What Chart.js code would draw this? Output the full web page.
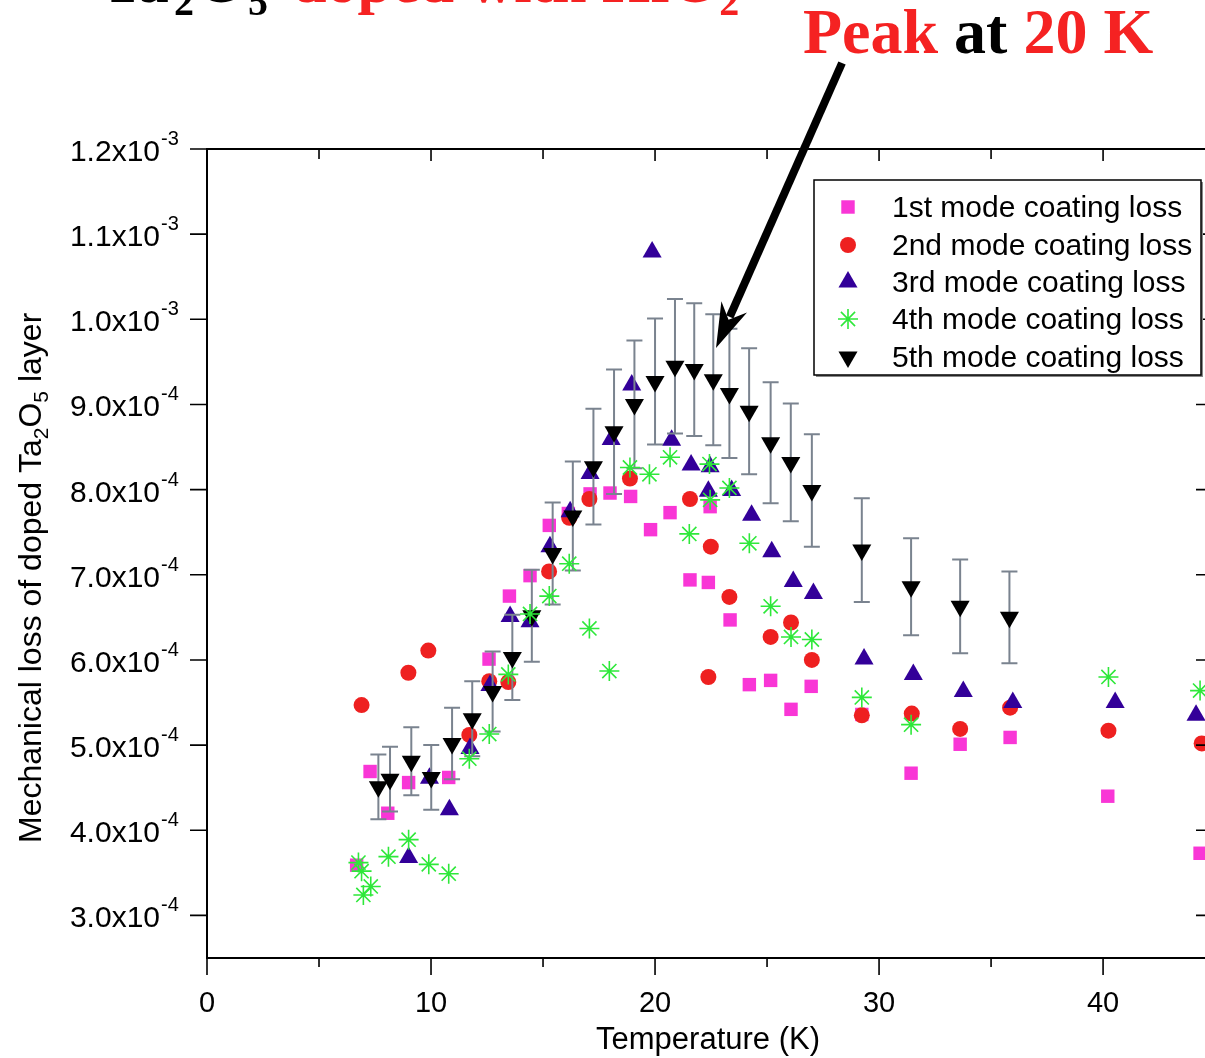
<!DOCTYPE html>
<html lang="en">
<head>
    <meta charset="UTF-8">
    <title>Mechanical loss of doped Ta2O5 layer</title>
    <script src="https://cdn.jsdelivr.net/npm/chart.js"></script>
    <style>
        html, body {
            margin: 0;
            padding: 0;
            background: #fff;
            overflow: hidden;
        }
        canvas {
            display: block;
        }
    </style>
</head>
<body>
    <canvas id="lossChart" width="1205" height="1058"></canvas>

    <script>
        // temperature in K, loss in units of 1e-4
        const mode1Temp = [6.68, 7.28, 8.07, 9.00, 10.79, 12.59, 13.50, 14.42, 15.28, 16.13, 17.10, 17.99, 18.91, 19.80, 20.67, 21.56, 22.38, 22.46, 23.35, 24.21, 25.16, 26.07, 26.97, 29.23, 31.43, 33.62, 35.85, 40.21, 44.33];
        const mode1Loss = [3.59, 4.69, 4.20, 4.56, 4.62, 6.01, 6.75, 6.99, 7.58, 7.72, 7.95, 7.96, 7.92, 7.53, 7.73, 6.94, 6.91, 7.80, 6.47, 5.71, 5.76, 5.42, 5.69, 5.36, 4.67, 5.01, 5.09, 4.40, 3.73];

        const mode2Temp = [6.90, 8.99, 9.88, 11.71, 12.60, 13.45, 15.27, 16.17, 17.07, 18.88, 21.56, 22.38, 22.49, 23.32, 25.16, 26.07, 27.00, 29.23, 31.46, 33.62, 35.85, 40.24, 44.40];
        const mode2Loss = [5.47, 5.85, 6.11, 5.12, 5.75, 5.74, 7.04, 7.67, 7.89, 8.13, 7.89, 5.80, 7.33, 6.74, 6.27, 6.44, 6.00, 5.35, 5.37, 5.19, 5.44, 5.17, 5.02];

        const mode3Temp = [9.00, 9.93, 10.82, 11.74, 12.63, 13.53, 14.42, 15.31, 16.21, 17.10, 18.04, 18.96, 19.87, 20.74, 21.61, 22.38, 22.46, 23.42, 24.31, 25.21, 26.17, 27.07, 29.33, 31.53, 33.76, 35.97, 40.54, 44.15];
        const mode3Loss = [3.68, 4.61, 4.24, 4.96, 5.70, 6.51, 6.45, 7.33, 7.74, 8.19, 8.59, 9.23, 10.79, 8.58, 8.29, 7.98, 8.27, 7.99, 7.70, 7.27, 6.92, 6.78, 6.01, 5.83, 5.63, 5.50, 5.50, 5.35];

        const mode4Temp = [6.76, 6.90, 6.98, 7.31, 8.10, 9.00, 9.90, 10.79, 11.71, 12.60, 13.45, 14.42, 15.28, 16.17, 17.07, 17.96, 18.88, 19.75, 20.67, 21.53, 22.43, 22.46, 23.32, 24.21, 25.16, 26.07, 27.00, 29.23, 31.43, 40.24, 44.33];
        const mode4Loss = [3.62, 3.52, 3.24, 3.34, 3.69, 3.89, 3.60, 3.49, 4.84, 5.13, 5.83, 6.54, 6.75, 7.13, 6.37, 5.87, 8.26, 8.18, 8.38, 7.48, 8.30, 7.88, 8.02, 7.37, 6.63, 6.27, 6.24, 5.56, 5.24, 5.80, 5.64];

        const mode5Temp = [7.65, 8.17, 9.12, 10.01, 10.94, 11.84, 12.75, 13.63, 14.50, 15.43, 16.33, 17.25, 18.17, 19.08, 20.00, 20.89, 21.75, 22.60, 23.32, 24.20, 25.16, 26.06, 27.00, 29.23, 31.43, 33.62, 35.82];
        const mode5Loss = [4.51, 4.60, 4.81, 4.62, 5.02, 5.31, 5.63, 6.03, 6.52, 7.25, 7.69, 8.27, 8.68, 9.00, 9.27, 9.45, 9.41, 9.29, 9.13, 8.92, 8.55, 8.32, 7.99, 7.29, 6.86, 6.63, 6.50];
        const mode5Err = [0.38, 0.38, 0.40, 0.38, 0.42, 0.44, 0.47, 0.50, 0.54, 0.60, 0.64, 0.68, 0.73, 0.75, 0.74, 0.79, 0.78, 0.77, 0.76, 0.74, 0.71, 0.69, 0.66, 0.61, 0.57, 0.55, 0.54];

        const seriesNames = ["1st mode coating loss", "2nd mode coating loss", "3rd mode coating loss", "4th mode coating loss", "5th mode coating loss"];

        const xMajorTicks = [0, 10, 20, 30, 40];
        const xMinorTicks = [5, 15, 25, 35];
        const yTicks = [3, 4, 5, 6, 7, 8, 9, 10, 11, 12];
        const yTickMantissa = ["3.0", "4.0", "5.0", "6.0", "7.0", "8.0", "9.0", "1.0", "1.1", "1.2"];
        const yTickExponent = ["-4", "-4", "-4", "-4", "-4", "-4", "-4", "-3", "-3", "-3"];

        const sansFont = "Arial, 'Liberation Sans', sans-serif";
        const serifFont = "'Times New Roman', 'Liberation Serif', serif";
        const red = "#f52222";

        function toPoints(xs, ys) {
            return xs.map((x, i) => ({ x: x, y: ys[i] }));
        }

        const datasets = [
            { label: seriesNames[0], data: toPoints(mode1Temp, mode1Loss), pointStyle: "rect", pointRadius: 9.5,
              backgroundColor: "#f936d6", borderColor: "#f936d6", borderWidth: 0, order: 4 },
            { label: seriesNames[1], data: toPoints(mode2Temp, mode2Loss), pointStyle: "circle", pointRadius: 8,
              backgroundColor: "#ee2020", borderColor: "#ee2020", borderWidth: 0, order: 3 },
            { label: seriesNames[2], data: toPoints(mode3Temp, mode3Loss), pointStyle: "triangle", pointRadius: 11,
              backgroundColor: "#330099", borderColor: "#330099", borderWidth: 0, order: 2 },
            { label: seriesNames[3], data: toPoints(mode4Temp, mode4Loss), pointStyle: "star", pointRadius: 10,
              backgroundColor: "#2ee83a", borderColor: "#2ee83a", borderWidth: 1.6, order: 0 },
            { label: seriesNames[4], data: toPoints(mode5Temp, mode5Loss), pointStyle: "triangle", pointRadius: 11,
              pointRotation: 180, backgroundColor: "#000", borderColor: "#000", borderWidth: 0, order: 1 }
        ];

        function drawSymbol(ctx, ds, x, y) {
            ctx.fillStyle = ds.backgroundColor;
            ctx.strokeStyle = ds.borderColor;
            ctx.lineWidth = ds.borderWidth;
            Chart.helpers.drawPoint(ctx, {
                pointStyle: ds.pointStyle,
                radius: ds.pointRadius,
                rotation: ds.pointRotation || 0,
                borderWidth: ds.borderWidth
            }, x, y);
        }

        // draw a run of text pieces, some of them lowered as subscripts
        function drawRuns(ctx, runs, x, y) {
            runs.forEach(r => {
                ctx.font = r.font;
                ctx.fillStyle = r.color;
                if (r.at !== undefined) x = r.at;
                ctx.fillText(r.text, x, y + (r.dy || 0));
                x += ctx.measureText(r.text).width;
            });
        }

        const decorPlugin = {
            id: "decor",
            beforeDatasetDraw(chart, args) {
                // error bars of the 5th mode, under its markers
                if (args.index !== 4) return;
                const { ctx, scales: { x, y } } = chart;
                ctx.save();
                ctx.strokeStyle = "#7a838f";
                ctx.lineWidth = 2;
                mode5Temp.forEach((t, i) => {
                    const px = x.getPixelForValue(t);
                    const top = y.getPixelForValue(mode5Loss[i] + mode5Err[i]);
                    const bot = y.getPixelForValue(mode5Loss[i] - mode5Err[i]);
                    ctx.beginPath();
                    ctx.moveTo(px, top);
                    ctx.lineTo(px, bot);
                    ctx.moveTo(px - 8, top);
                    ctx.lineTo(px + 8, top);
                    ctx.moveTo(px - 8, bot);
                    ctx.lineTo(px + 8, bot);
                    ctx.stroke();
                });
                ctx.restore();
            },
            afterDraw(chart) {
                const { ctx, chartArea: area, scales: { x, y } } = chart;
                ctx.save();

                // frame (the right side lies just outside the picture)
                ctx.strokeStyle = "#000";
                ctx.lineWidth = 2;
                ctx.beginPath();
                ctx.moveTo(area.right + 2, area.top);
                ctx.lineTo(area.left, area.top);
                ctx.lineTo(area.left, area.bottom);
                ctx.lineTo(area.right + 2, area.bottom);
                ctx.stroke();

                // ticks
                ctx.beginPath();
                xMajorTicks.forEach(v => {
                    const px = x.getPixelForValue(v);
                    ctx.moveTo(px, area.bottom);
                    ctx.lineTo(px, area.bottom + 17);
                    ctx.moveTo(px, area.top);
                    ctx.lineTo(px, area.top + 12);
                });
                xMinorTicks.forEach(v => {
                    const px = x.getPixelForValue(v);
                    ctx.moveTo(px, area.bottom);
                    ctx.lineTo(px, area.bottom + 9);
                    ctx.moveTo(px, area.top);
                    ctx.lineTo(px, area.top + 10);
                });
                yTicks.forEach(v => {
                    const py = y.getPixelForValue(v);
                    ctx.moveTo(area.left - 17, py);
                    ctx.lineTo(area.left, py);
                    ctx.moveTo(area.right - 9, py);
                    ctx.lineTo(area.right + 2, py);
                });
                ctx.lineWidth = 1.6;
                ctx.stroke();

                // x tick labels
                ctx.fillStyle = "#000";
                ctx.font = "29px " + sansFont;
                ctx.textAlign = "center";
                ctx.textBaseline = "alphabetic";
                xMajorTicks.forEach(v => {
                    ctx.fillText(String(v), x.getPixelForValue(v), 1012);
                });

                // y tick labels with exponent
                yTicks.forEach((v, i) => {
                    const py = y.getPixelForValue(v);
                    ctx.textAlign = "right";
                    ctx.font = "30px " + sansFont;
                    ctx.fillText(yTickMantissa[i] + "x10", 160, py + 12);
                    ctx.textAlign = "left";
                    ctx.font = "20px " + sansFont;
                    ctx.fillText(yTickExponent[i], 161, py - 4);
                });

                // axis titles
                ctx.textAlign = "center";
                ctx.font = "31px " + sansFont;
                ctx.fillText("Temperature (K)", 708, 1049);

                ctx.save();
                ctx.translate(41, 843);
                ctx.rotate(-Math.PI / 2);
                ctx.textAlign = "left";
                const big = "32px " + sansFont, small = "21px " + sansFont;
                drawRuns(ctx, [
                    { text: "Mechanical loss of doped Ta", font: big, color: "#000" },
                    { text: "2", font: small, color: "#000", dy: 7 },
                    { text: "O", font: big, color: "#000" },
                    { text: "5", font: small, color: "#000", dy: 7 },
                    { text: " layer", font: big, color: "#000" }
                ], 0, 0);
                ctx.restore();

                // legend
                const lx = 814, ly = 180, lw = 387, lh = 195;
                ctx.fillStyle = "#888";
                ctx.fillRect(lx + 2, ly + 2, lw, lh);
                ctx.fillStyle = "#fff";
                ctx.fillRect(lx, ly, lw, lh);
                ctx.strokeStyle = "#000";
                ctx.lineWidth = 1.5;
                ctx.strokeRect(lx, ly, lw, lh);
                const rowY = [207, 245, 282, 319, 357];
                datasets.forEach((ds, i) => {
                    drawSymbol(ctx, ds, 848, rowY[i]);
                    ctx.fillStyle = "#000";
                    ctx.font = "30px " + sansFont;
                    ctx.textAlign = "left";
                    ctx.fillText(seriesNames[i], 892, rowY[i] + 10);
                });

                // heading, cut at the top of the picture
                ctx.textAlign = "left";
                const hBig = "bold 62px " + serifFont, hSmall = "bold 40px " + serifFont;
                drawRuns(ctx, [
                    { text: "Ta", font: hBig, color: "#000", at: 102 },
                    { text: "2", font: hSmall, color: "#000", dy: 13, at: 174 },
                    { text: "O", font: hBig, color: "#000", at: 197 },
                    { text: "5", font: hSmall, color: "#000", dy: 13, at: 248 },
                    { text: "doped with HfO", font: hBig, color: red, at: 292 },
                    { text: "2", font: hSmall, color: red, dy: 13 }
                ], 0, 2);

                // peak note
                const pFont = "bold 64px " + serifFont;
                drawRuns(ctx, [
                    { text: "Peak", font: pFont, color: red },
                    { text: " at ", font: pFont, color: "#000" },
                    { text: "20 K", font: pFont, color: red }
                ], 803, 53);

                // arrow to the peak
                const sx = 842, sy = 63, tx = 716, ty = 348;
                const len = Math.hypot(tx - sx, ty - sy);
                const ux = (tx - sx) / len, uy = (ty - sy) / len;
                const nx = -uy, ny = ux;
                ctx.strokeStyle = "#000";
                ctx.lineWidth = 8;
                ctx.lineCap = "butt";
                ctx.beginPath();
                ctx.moveTo(sx, sy);
                ctx.lineTo(tx - ux * 34, ty - uy * 34);
                ctx.stroke();
                ctx.fillStyle = "#000";
                ctx.beginPath();
                ctx.moveTo(tx, ty);
                ctx.lineTo(tx - ux * 45 + nx * 14, ty - uy * 45 + ny * 14);
                ctx.lineTo(tx - ux * 31, ty - uy * 31);
                ctx.lineTo(tx - ux * 45 - nx * 14, ty - uy * 45 - ny * 14);
                ctx.closePath();
                ctx.fill();

                ctx.restore();
            }
        };

        const ctx = document.getElementById("lossChart").getContext("2d");
        const chart = new Chart(ctx, {
            type: "scatter",
            data: { datasets: datasets },
            options: {
                responsive: false,
                devicePixelRatio: 1,
                animation: false,
                layout: {
                    autoPadding: false,
                    padding: { left: 207, top: 149, right: 0, bottom: 100 }
                },
                plugins: {
                    legend: { display: false },
                    tooltip: { enabled: false }
                },
                scales: {
                    x: { type: "linear", min: 0, max: 44.55, display: false },
                    y: { type: "linear", min: 2.5, max: 12, display: false }
                }
            },
            plugins: [decorPlugin]
        });
    </script>
</body>
</html>
